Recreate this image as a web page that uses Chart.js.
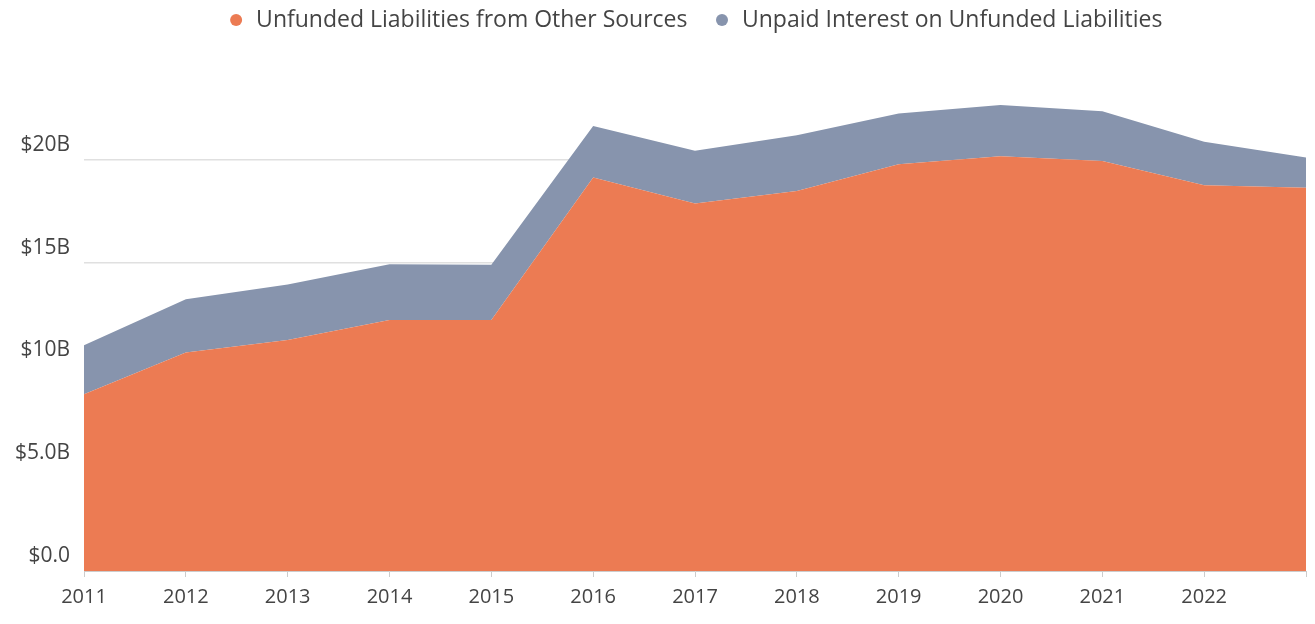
<!DOCTYPE html>
<html>
<head>
<meta charset="utf-8">
<script src="https://cdn.jsdelivr.net/npm/chart.js@4"></script>
<style>
    html, body { margin: 0; padding: 0; background: #ffffff; }
    #wrap { width: 1315px; height: 624px; }
</style>
</head>
<body>
<div id="wrap"><canvas id="grafica"></canvas></div>
<script>
// Datos de la gráfica (miles de millones de dólares)
const years = ["2011", "2012", "2013", "2014", "2015", "2016", "2017", "2018", "2019", "2020", "2021", "2022", "2023"];
const otherSources = [8.60, 10.63, 11.23, 12.20, 12.20, 19.13, 17.87, 18.48, 19.78, 20.17, 19.94, 18.76, 18.63];
const unpaidInterest = [2.38, 2.58, 2.70, 2.72, 2.69, 2.51, 2.56, 2.71, 2.47, 2.49, 2.42, 2.11, 1.48];
const yTicks = [0, 5, 10, 15, 20];

const textColor = "#444444";
const baseFont = "'Open Sans', 'Noto Sans', sans-serif";

// Centra la leyenda sobre el área de la gráfica
const legendOverArea = {
    id: "legendOverArea",
    afterLayout(chart) {
        const legend = chart.legend;
        const area = chart.chartArea;
        legend.left = area.left;
        legend.right = area.right;
        legend.width = area.right - area.left;
        legend.top = -17.5;
        legend.bottom = legend.top + legend.height;
    }
};

new Chart(document.getElementById("grafica"), {
    type: "line",
    data: {
        labels: years,
        datasets: [{
            label: "Unfunded Liabilities from Other Sources",
            data: otherSources,
            backgroundColor: "#ec7b53",
            borderColor: "#ec7b53",
            borderWidth: 0,
            pointRadius: 0,
            fill: "origin"
        }, {
            label: "Unpaid Interest on Unfunded Liabilities",
            data: unpaidInterest,
            backgroundColor: "#8794ad",
            borderColor: "#8794ad",
            borderWidth: 0,
            pointRadius: 0,
            fill: "-1"
        }]
    },
    options: {
        responsive: true,
        maintainAspectRatio: false,
        animation: false,
        layout: {
            padding: { top: 39, right: 9, bottom: 0, left: 0 }
        },
        plugins: {
            legend: {
                position: "top",
                labels: {
                    usePointStyle: true,
                    pointStyle: "circle",
                    boxWidth: 17,
                    boxHeight: 8.5,
                    padding: 26,
                    color: textColor,
                    font: { family: baseFont, size: 23 }
                }
            },
            tooltip: { enabled: false }
        },
        scales: {
            x: {
                offset: false,
                grid: {
                    drawOnChartArea: false,
                    drawTicks: true,
                    tickLength: 6,
                    color: "#cccccc"
                },
                border: { color: "#cccccc", width: 1 },
                ticks: {
                    color: textColor,
                    padding: 8,
                    maxRotation: 0,
                    autoSkip: false,
                    font: { family: baseFont, size: 20 },
                    // el último punto no lleva etiqueta
                    callback: (value, index) => index === years.length - 1 ? "" : years[index]
                },
                afterFit(scale) { scale.height = 53; }
            },
            y: {
                stacked: true,
                min: 0,
                max: 23,
                grid: {
                    drawTicks: false,
                    color: "#e0e0e0",
                    lineWidth: 1.5
                },
                border: { display: false },
                afterBuildTicks(scale) {
                    scale.ticks = yTicks.map(v => ({ value: v }));
                },
                ticks: {
                    color: textColor,
                    padding: 14,
                    labelOffset: -15,
                    font: { family: baseFont, size: 21 },
                    callback: (v) => v === 0 ? "$0.0" : (v < 10 ? "$" + v.toFixed(1) + "B" : "$" + v + "B")
                },
                afterFit(scale) { scale.width = 84; }
            }
        }
    },
    plugins: [legendOverArea]
});
</script>
</body>
</html>
